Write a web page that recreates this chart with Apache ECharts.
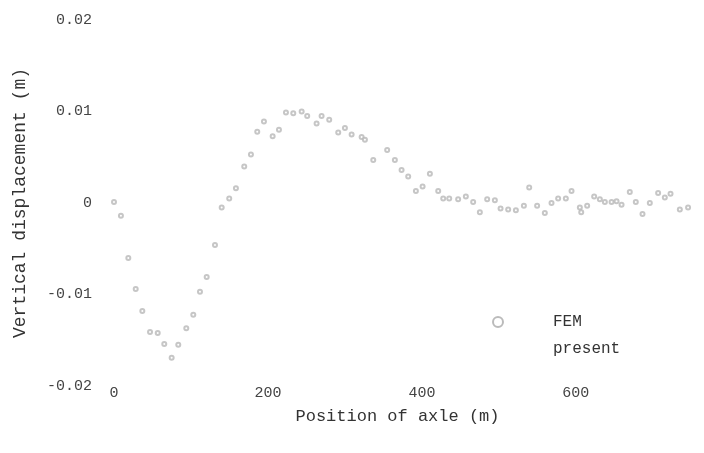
<!DOCTYPE html>
<html>
<head>
<meta charset="utf-8">
<script src="https://cdn.jsdelivr.net/npm/echarts@6/dist/echarts.min.js"></script>
<style>
  html, body { margin: 0; padding: 0; background: #fff; }
  #chart { width: 704px; height: 453px; }
</style>
</head>
<body>
<div id="chart"></div>
<script>
// position of axle (m)
const femX = [
  0, 9, 18.6, 28.2, 36.8, 46.8, 56.8, 65.3, 74.9, 83.5,
  93.9, 103, 111.7, 120.4, 131.2, 139.9, 149.7, 158.4, 169.2, 177.9,
  186.1, 194.8, 206.1, 214.3, 223.4, 232.9, 243.8, 251, 263.2, 269.7,
  279.6, 291.3, 300, 308.7, 321.7, 326, 336.8, 354.9, 364.9, 373.6,
  382.2, 392.2, 400.9, 410.4, 421.2, 427.7, 435.5, 447.1, 457.1, 466.6,
  475.3, 484.8, 494.8, 502.2, 512.1, 522.1, 532.5, 539.4, 549.7, 559.7,
  568.4, 577, 587, 594.4, 605.2, 607, 614.7, 623.8, 631.2, 637.7,
  646.4, 652.9, 659.4, 670.1, 677.9, 686.6, 696.1, 706.9, 715.6, 723,
  735.1, 745.8,
];
// vertical displacement (m)
const femY = [
  0.0001, -0.0014, -0.0060, -0.0094, -0.0118, -0.0141, -0.0142, -0.0154, -0.0169, -0.0155,
  -0.0137, -0.0122, -0.0097, -0.0081, -0.0046, -0.0005, 0.0005, 0.0016, 0.0040, 0.0053,
  0.0078, 0.0089, 0.0073, 0.0080, 0.0099, 0.0098, 0.0100, 0.0095, 0.0087, 0.0095,
  0.0091, 0.0077, 0.0082, 0.0075, 0.0072, 0.0069, 0.0047, 0.0058, 0.0047, 0.0036,
  0.0029, 0.0013, 0.0018, 0.0032, 0.0013, 0.0005, 0.0005, 0.0004, 0.0007, 0.0001,
  -0.0010, 0.0004, 0.0003, -0.0006, -0.0007, -0.0008, -0.0003, 0.0017, -0.0003, -0.0011,
  0.0000, 0.0005, 0.0005, 0.0013, -0.0005, -0.0010, -0.0003, 0.0007, 0.0004, 0.0001,
  0.0001, 0.0002, -0.0002, 0.0012, 0.0001, -0.0012, 0.0000, 0.0011, 0.0006, 0.0010,
  -0.0007, -0.0005,
];
const seriesNames = ['FEM', 'present'];

const font = "'Liberation Mono', 'DejaVu Sans Mono', monospace";
const chart = echarts.init(document.getElementById('chart'));

const option = {
  backgroundColor: '#fff',
  animation: false,
  grid: {
    left: 114,
    right: 5,
    top: 20,
    bottom: 67,
  },
  legend: {
    orient: 'vertical',
    left: 443,
    top: 309,
    itemWidth: 100,
    itemHeight: 10,
    itemGap: 11,
    textStyle: {
      fontFamily: font,
      fontSize: 16,
      color: '#333',
    },
    data: [
      {
        name: seriesNames[0],
        icon: 'emptyCircle',
        itemStyle: { color: '#aaa', borderColor: '#aaa', borderWidth: 1 },
      },
      {
        name: seriesNames[1],
        icon: 'rect',
        itemStyle: { opacity: 0 },
      },
    ],
  },
  xAxis: {
    type: 'value',
    min: 0,
    max: 760,
    interval: 200,
    name: 'Position of axle (m)',
    nameLocation: 'middle',
    nameGap: 22,
    nameTextStyle: { fontFamily: font, fontSize: 17, color: '#333', padding: [0, 18, 0, 0] },
    axisLine: { show: false },
    axisTick: { show: false },
    splitLine: { show: false },
    axisLabel: {
      margin: 0,
      showMaxLabel: false,
      fontFamily: font,
      fontSize: 15,
      color: '#444',
    },
  },
  yAxis: {
    type: 'value',
    min: -0.02,
    max: 0.02,
    interval: 0.01,
    name: 'Vertical displacement (m)',
    nameLocation: 'middle',
    nameGap: 85,
    nameTextStyle: { fontFamily: font, fontSize: 18, color: '#333' },
    axisLine: { show: false },
    axisTick: { show: false },
    splitLine: { show: false },
    axisLabel: {
      margin: 22,
      fontFamily: font,
      fontSize: 15,
      color: '#444',
      formatter: (v) => (v === 0 ? '0' : v.toFixed(2)),
    },
  },
  series: [
    {
      name: seriesNames[0],
      type: 'scatter',
      symbol: 'emptyCircle',
      symbolSize: 4,
      itemStyle: {
        color: '#b8b8b8',
        borderColor: '#b8b8b8',
        borderWidth: 0.8,
      },
      data: femX.map((x, i) => [x, femY[i]]),
    },
    {
      name: seriesNames[1],
      type: 'line',
      data: [],
    },
  ],
};

chart.setOption(option);
</script>
</body>
</html>
